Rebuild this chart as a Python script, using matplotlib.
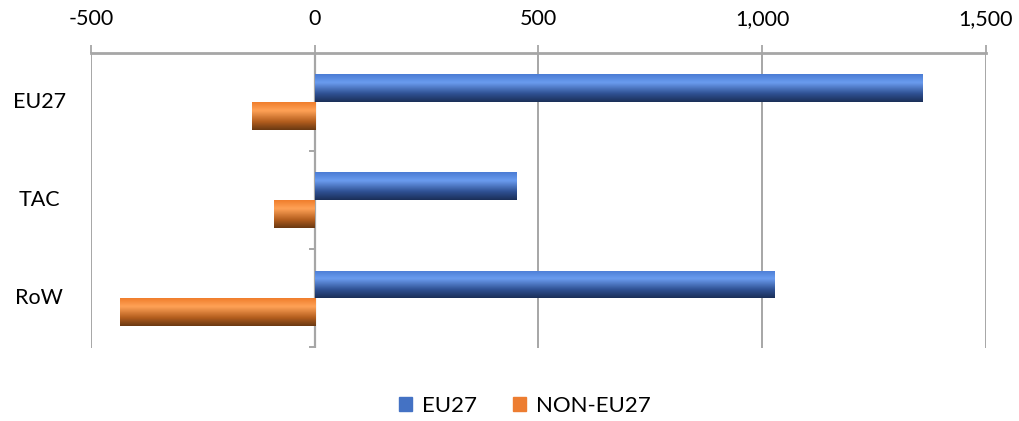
import numpy as np
import matplotlib
matplotlib.use("Agg")
import matplotlib.pyplot as plt
from matplotlib.colors import LinearSegmentedColormap
from matplotlib.patches import Patch

plt.rcParams['font.family'] = ['Lato', 'DejaVu Sans']

# donnees
CATEGORIES = ["EU27", "TAC", "RoW"]
EU27 = [1357, 450, 1026]
NON_EU27 = [-141, -90, -436]
TICKS = [-500, 0, 500, 1000, 1500]
TICK_LABELS = ["-500", "0", "500", "1,000", "1,500"]

BLUE = "#4472c4"
ORANGE = "#ed7d31"
cmap_blue = LinearSegmentedColormap.from_list(
    "b", [(0, "#4a7cd4"), (0.3, "#6b9cef"), (0.7, "#2f5193"), (1, "#1b2f58")])
cmap_orange = LinearSegmentedColormap.from_list(
    "o", [(0, "#f07e2c"), (0.3, "#ffa257"), (0.7, "#b45e1e"), (1, "#6a3912")])

fig = plt.figure(figsize=(10.2, 4.21), dpi=100)
ax = fig.add_axes([91 / 1020, 1 - 347.5 / 421, 895 / 1020, 294.5 / 421])

h = 0.283
y = np.arange(len(CATEGORIES))
grad = np.linspace(0, 1, 64).reshape(-1, 1)


def barres(vals, offset, cmap):
    bars = ax.barh(y + offset, vals, height=h, color="none", edgecolor="none", zorder=3)
    for b in bars:
        x0, y0 = b.get_x(), b.get_y()
        w, hh = b.get_width(), b.get_height()
        im = ax.imshow(grad, cmap=cmap, aspect="auto", interpolation="bicubic",
                       extent=(x0, x0 + w, y0 + hh, y0), origin="upper", zorder=3)
        im.set_clip_path(b)


barres(EU27, -h / 2, cmap_blue)
barres(NON_EU27, h / 2, cmap_orange)

ax.set_xlim(-500, 1500)
ax.set_ylim(2.5, -0.5)

# axe x en haut
ax.xaxis.tick_top()
ax.set_xticks(TICKS)
ax.set_xticklabels(TICK_LABELS, fontsize=15.5)
ax.tick_params(axis="x", length=6, width=1.3, color="#a6a6a6", pad=11)
ax.grid(axis="x", color="#a6a6a6", lw=1.4, zorder=1)

for s in ["left", "right", "bottom"]:
    ax.spines[s].set_visible(False)
ax.spines["top"].set_color("#a6a6a6")
ax.spines["top"].set_linewidth(2)

# axe vertical a zero avec graduations entre categories
ax.axvline(0, color="#a6a6a6", lw=1.6, zorder=2)
ax.set_yticks([])
for yb in np.arange(len(CATEGORIES)) + 0.5:
    ax.plot([-10, 0], [yb, yb], color="#a6a6a6", lw=1.4, zorder=2, clip_on=False)

for yi, cat in zip(y, CATEGORIES):
    ax.text(-0.058, yi, cat, transform=ax.get_yaxis_transform(), ha="center",
            va="center", fontsize=15.5)

handles = [Patch(color=BLUE, label="EU27"), Patch(color=ORANGE, label="NON-EU27")]
fig.legend(handles=handles, loc="center", bbox_to_anchor=(525 / 1020, 1 - 406 / 421),
           ncol=2, frameon=False, fontsize=16, handlelength=0.6, handleheight=0.6,
           handletextpad=0.45, columnspacing=1.6)

fig.savefig("out.png", dpi=100)
